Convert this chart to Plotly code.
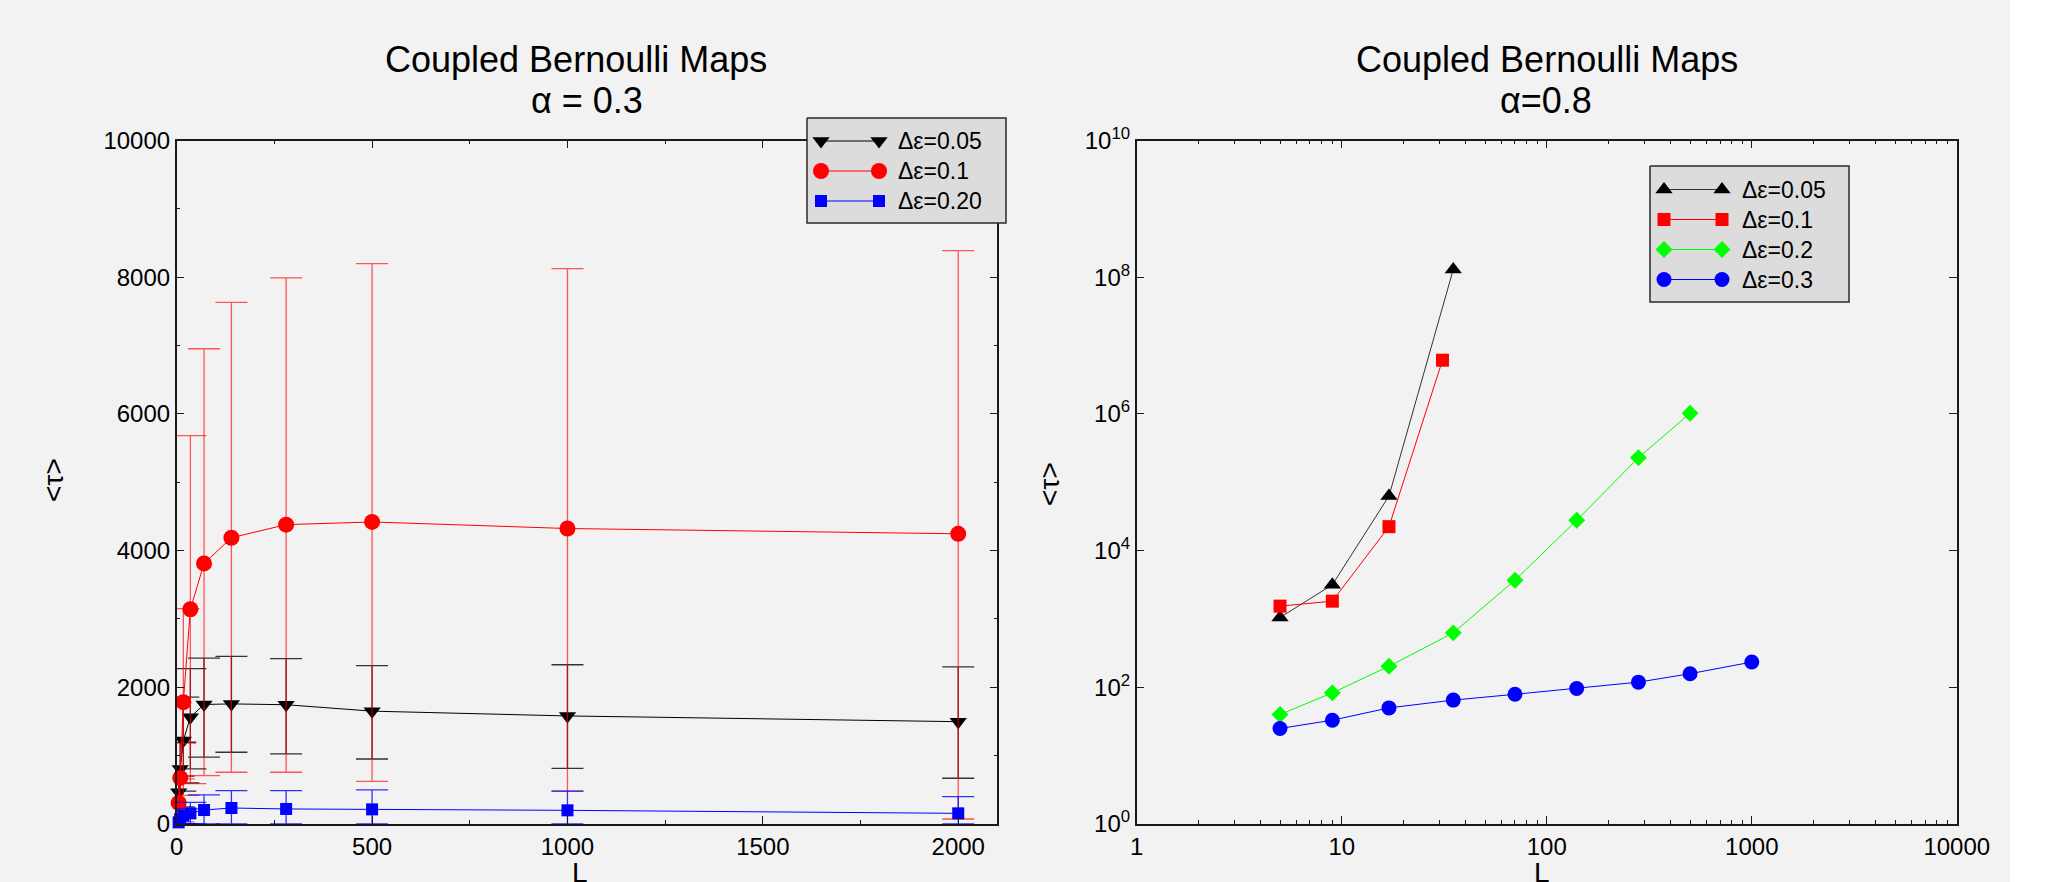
import plotly.graph_objects as go

# ---------------- data ----------------
# Left panel: alpha = 0.3 (linear axes)
L_left = [5, 9, 17, 35, 70, 140, 280, 500, 1000, 2000]

tau_005 = [463, 806, 1221, 1563, 1749, 1757, 1745, 1651, 1581, 1497]
up_005 = [700, 1196, 1856, 2272, 2428, 2453, 2419, 2318, 2330, 2300]
lo_005 = [250, 480, 600, 806, 977, 1050, 1026, 951, 814, 669]

tau_01 = [308, 674, 1783, 3142, 3812, 4188, 4380, 4419, 4323, 4246]
up_01 = [660, 1182, 3150, 5682, 6953, 7632, 7990, 8200, 8125, 8390]
lo_01 = [30, 180, 420, 590, 708, 757, 757, 625, 480, 73]

tau_020 = [24, 73, 122, 156, 205, 234, 220, 214, 200, 156]
up_020 = [97, 147, 220, 317, 425, 489, 489, 498, 480, 400]
lo_020 = [0, 0, 0, 0, 0, 0, 0, 0, 0, 0]

# Right panel: alpha = 0.8 (log-log axes)
L_r005 = [5, 9, 17, 35]
tau_r005 = [1050, 3160, 6.3e4, 1.3e8]
L_r01 = [5, 9, 17, 31]
tau_r01 = [1540, 1820, 2.24e4, 6.1e6]
L_r02 = [5, 9, 17, 35, 70, 140, 280, 500]
tau_r02 = [40, 83, 203, 626, 3690, 2.78e4, 2.29e5, 1.02e6]
L_r03 = [5, 9, 17, 35, 70, 140, 280, 500, 1000]
tau_r03 = [25, 33, 50, 65, 79, 96, 119, 158, 234]

left_labels = ["Δε=0.05", "Δε=0.1", "Δε=0.20"]
right_labels = ["Δε=0.05", "Δε=0.1", "Δε=0.2", "Δε=0.3"]

x_ticks_right = [1, 10, 100, 1000, 10000]
y_ticks_right = [1e0, 1e2, 1e4, 1e6, 1e8, 1e10]

# ---------------- styling ----------------
W, H = 2051, 882
FONT = "Liberation Sans, Arial, Helvetica, sans-serif"
BG = "#f2f2f2"
AX = "#1a1a1a"


def px(x):
    return x / W


def py(y):
    return 1 - y / H


left_styles = [
    dict(symbol="triangle-down", size=15, color="black", line="black", err="rgba(30,30,30,0.9)"),
    dict(symbol="circle", size=16, color="red", line="red", err="rgba(255,0,0,0.65)"),
    dict(symbol="square", size=12, color="blue", line="blue", err="rgba(0,0,255,0.8)"),
]
right_styles = [
    dict(symbol="triangle-up", size=15, color="black", line="#333333"),
    dict(symbol="square", size=13, color="red", line="red"),
    dict(symbol="diamond", size=13, color="#00ff00", line="#00ff00"),
    dict(symbol="circle", size=15, color="blue", line="blue"),
]

fig = go.Figure()

# ---- left panel traces ----
left_series = [(tau_005, up_005, lo_005), (tau_01, up_01, lo_01), (tau_020, up_020, lo_020)]
for (tau, up, lo), st in zip(left_series, left_styles):
    fig.add_trace(go.Scatter(
        x=L_left, y=tau, mode="lines+markers", xaxis="x", yaxis="y",
        line=dict(color=st["line"], width=1),
        marker=dict(symbol=st["symbol"], size=st["size"], color=st["color"], line=dict(width=0)),
        error_y=dict(type="data", symmetric=False,
                     array=[u - t for u, t in zip(up, tau)],
                     arrayminus=[t - l for t, l in zip(tau, lo)],
                     color=st["err"], thickness=1.3, width=16),
        cliponaxis=False, showlegend=False, hoverinfo="x+y",
    ))

# ---- right panel traces ----
right_series = [(L_r005, tau_r005), (L_r01, tau_r01), (L_r02, tau_r02), (L_r03, tau_r03)]
for (xs, ys), st in zip(right_series, right_styles):
    fig.add_trace(go.Scatter(
        x=xs, y=ys, mode="lines+markers", xaxis="x2", yaxis="y2",
        line=dict(color=st["line"], width=1),
        marker=dict(symbol=st["symbol"], size=st["size"], color=st["color"], line=dict(width=0)),
        cliponaxis=False, showlegend=False, hoverinfo="x+y",
    ))

# ---- custom legends (pixel overlay axis) ----
annotations = []


def add_legend(box, rows_top, labels, styles, sym_x0, sym_x1, text_x):
    x0, y0, x1, y1 = box
    fig.add_trace(go.Scatter(
        x=[x0, x1, x1, x0, x0], y=[y0, y0, y1, y1, y0], mode="lines",
        fill="toself", fillcolor="#dcdcdc", line=dict(color="#2a2a2a", width=1.5),
        xaxis="x3", yaxis="y3", showlegend=False, hoverinfo="skip",
    ))
    for i, (lab, st) in enumerate(zip(labels, styles)):
        yy = rows_top + 30 * i
        fig.add_trace(go.Scatter(
            x=[sym_x0, sym_x1], y=[yy, yy], mode="lines+markers",
            line=dict(color=st["line"], width=1),
            marker=dict(symbol=st["symbol"], size=st["size"], color=st["color"], line=dict(width=0)),
            xaxis="x3", yaxis="y3", showlegend=False, hoverinfo="skip", cliponaxis=False,
        ))
        annotations.append(dict(
            x=px(text_x), y=py(yy), xref="paper", yref="paper", text=lab,
            showarrow=False, xanchor="left", yanchor="middle",
            font=dict(family=FONT, size=23, color="black"),
        ))


add_legend((807, 118, 1006, 223), 141, left_labels, left_styles, 821, 879, 896)
add_legend((1650, 166, 1849, 302), 189.5, right_labels, right_styles, 1664, 1722, 1740)

# ---- titles & axis titles ----
def txt(x, y, s, size, **kw):
    d = dict(x=px(x), y=py(y), xref="paper", yref="paper", text=s, showarrow=False,
             xanchor="center", yanchor="middle",
             font=dict(family=FONT, size=size, color="black"))
    d.update(kw)
    annotations.append(d)


txt(576, 60, "Coupled Bernoulli Maps", 36)
txt(587, 101, "α = 0.3", 36)
txt(1547, 60, "Coupled Bernoulli Maps", 36)
txt(1546, 101, "α=0.8", 36)
txt(53, 480, "&lt;τ&gt;", 28, textangle=-90)
txt(1049, 484, "&lt;τ&gt;", 28, textangle=-90)
txt(580, 872, "L", 28)
txt(1542, 872, "L", 28)

# ---------------- axes ----------------
common = dict(
    showline=True, linecolor=AX, linewidth=1.5, mirror="allticks",
    ticks="inside", ticklen=8, tickwidth=1.2, tickcolor=AX,
    showgrid=False, zeroline=False, automargin=False,
    exponentformat="none", separatethousands=False,
    tickfont=dict(family=FONT, size=24, color="black"),
)
minor_lin = dict(ticks="inside", ticklen=4, tickwidth=1.2, tickcolor=AX, showgrid=False)

y_bot, y_top = 824, 140.5

layout_axes = dict(
    xaxis=dict(domain=[px(176.7), px(997.3)], range=[0, 2100], tick0=0, dtick=500,
               tickformat="d",
               minor=dict(dtick=250, **minor_lin), anchor="y", **common),
    yaxis=dict(domain=[py(y_bot), py(y_top)], range=[0, 10000], tick0=0, dtick=2000,
               tickformat="d",
               minor=dict(dtick=1000, **minor_lin), anchor="x", **common),
    xaxis2=dict(domain=[px(1136.7), px(1956.8)], type="log", range=[0, 4],
                tickmode="array", tickvals=x_ticks_right,
                ticktext=[str(v) for v in x_ticks_right],
                minor=dict(tickmode="array",
                           tickvals=[k * 10 ** d for d in range(4) for k in range(2, 10)],
                           **minor_lin),
                anchor="y2", **common),
    yaxis2=dict(domain=[py(y_bot), py(y_top)], type="log", range=[0, 10],
                tickmode="array", tickvals=y_ticks_right,
                ticktext=["10<sup>%d</sup>" % e for e in range(0, 11, 2)],
                anchor="x2", **common),
    xaxis3=dict(domain=[0, 1], range=[0, W], visible=False, anchor="y3",
                fixedrange=True, automargin=False),
    yaxis3=dict(domain=[0, 1], range=[H, 0], visible=False, anchor="x3",
                fixedrange=True, automargin=False),
)

fig.update_layout(
    width=W, height=H, autosize=False,
    margin=dict(l=0, r=0, t=0, b=0, pad=0, autoexpand=False),
    paper_bgcolor=BG, plot_bgcolor="rgba(0,0,0,0)",
    showlegend=False,
    annotations=annotations,
    shapes=[dict(type="rect", xref="paper", yref="paper", x0=px(2010), x1=1, y0=0, y1=1,
                 fillcolor="white", line=dict(width=0), layer="below")],
    **layout_axes,
)

fig.write_html("out.html", include_plotlyjs=True, config={"displayModeBar": False})
